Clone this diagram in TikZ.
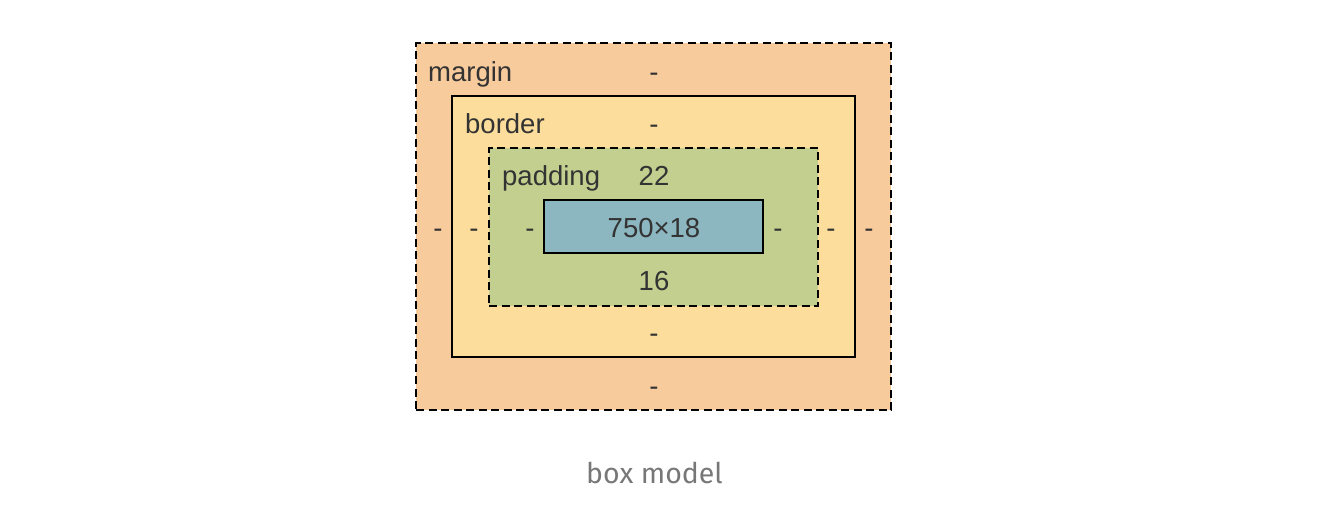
\documentclass[tikz,border=0pt]{standalone}
\usepackage{fontspec}
\setmainfont{Liberation Sans}
\newfontfamily\capfont{Fira Sans}
\definecolor{marginc}{HTML}{F8CB9C}
\definecolor{borderc}{HTML}{FCDD9B}
\definecolor{paddingc}{HTML}{C3CF8E}
\definecolor{contentc}{HTML}{8CB6C0}
\definecolor{txt}{HTML}{333333}
\definecolor{capc}{HTML}{777777}
\begin{document}
\begin{tikzpicture}[x=1pt,y=-1pt,
  boxdash/.style={draw=black,line width=2.3pt,dash pattern=on 8pt off 4.5pt,inner sep=0pt},
  boxsolid/.style={draw=black,line width=2.2pt,inner sep=0pt},
  lbl/.style={text=txt,font=\fontsize{27.5}{32}\selectfont,inner sep=0pt,anchor=base},
  lblw/.style={text=txt,font=\fontsize{27.5}{32}\selectfont,inner sep=0pt,anchor=base west}]
\useasboundingbox (0,0) rectangle (1336,506);
\node[boxdash,fill=marginc,minimum width=475pt,minimum height=367pt] (margin) at (653.5,226.5) {};
\node[boxsolid,fill=borderc,minimum width=403pt,minimum height=261pt] (border) at (653.5,226.5) {};
\node[boxdash,fill=paddingc,minimum width=329pt,minimum height=158pt] (padding) at (653.5,227) {};
\node[boxsolid,fill=contentc,minimum width=219pt,minimum height=53pt] (content) at (653.5,226.5) {};
% labels
\node[lblw] (lm) at (428,81) {margin};
\node[lblw] (lb) at (465,133) {border};
\node[lblw] (lp) at (502,185) {padding};
\node[lbl] (mt) at (654,81) {-};
\node[lbl] (bt) at (654,133) {-};
\node[lbl] (pt) at (654,185) {22};
\node[lbl] (ct) at (654,237) {750\texttimes 18};
\node[lbl] (pb) at (654,290) {16};
\node[lbl] (bb) at (654,342) {-};
\node[lbl] (mb) at (654,395) {-};
\node[lbl] (ml) at (438,237) {-};
\node[lbl] (bl) at (474,237) {-};
\node[lbl] (pl) at (530,237) {-};
\node[lbl] (pr) at (778,237) {-};
\node[lbl] (br) at (831,237) {-};
\node[lbl] (mr) at (869,237) {-};
\node[text=capc,font=\capfont\fontsize{28.5}{34}\selectfont,inner sep=0pt,anchor=base] (cap) at (654.5,483) {box model};
\end{tikzpicture}
\end{document}
